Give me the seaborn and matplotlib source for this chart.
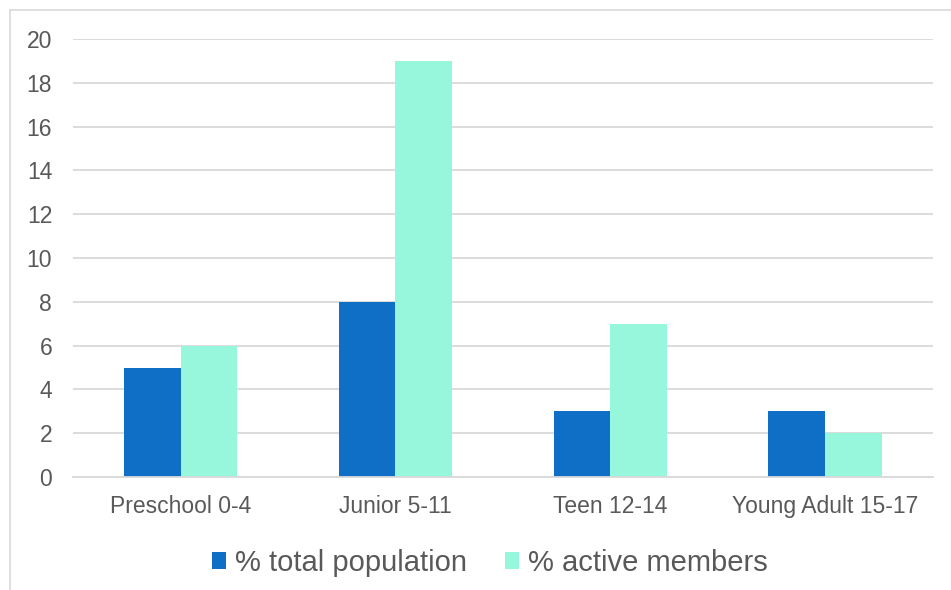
import matplotlib
matplotlib.use("Agg")
import matplotlib.pyplot as plt
from matplotlib.lines import Line2D
from matplotlib.patches import Patch
import pandas as pd
import seaborn as sns

categories = ["Preschool 0-4", "Junior 5-11", "Teen 12-14", "Young Adult 15-17"]
total_population = [5, 8, 3, 3]
active_members = [6, 19, 7, 2]
series_names = ["% total population", "% active members"]
colors = ["#0F6FC6", "#97F7DC"]
yticks = [0, 2, 4, 6, 8, 10, 12, 14, 16, 18, 20]

df = pd.DataFrame({
    "category": categories * 2,
    "value": total_population + active_members,
    "series": [series_names[0]] * len(categories) + [series_names[1]] * len(categories),
})

sns.set_theme(style="white")
plt.rcParams["font.family"] = ["Liberation Sans", "DejaVu Sans"]

fig = plt.figure(figsize=(9.51, 5.90), dpi=100)
ax = fig.add_axes([0.0768, 0.1915, 0.9042, 0.7424])

sns.barplot(data=df, x="category", y="value", hue="series", order=categories,
            hue_order=series_names, palette=colors, width=0.53, saturation=1,
            linewidth=0, edgecolor="none", ax=ax, legend=False)

ax.set_ylim(0, 20)
ax.set_xlim(-0.5, len(categories) - 0.5)
ax.set_yticks(yticks)
ax.yaxis.grid(True, color="#D9D9D9", linewidth=1.3)
ax.set_axisbelow(True)
for side in ["top", "right", "left"]:
    ax.spines[side].set_visible(False)
ax.spines["bottom"].set_color("#D9D9D9")
ax.spines["bottom"].set_linewidth(1.3)
ax.tick_params(axis="both", length=0, labelsize=16.5, labelcolor="#595959")
ax.tick_params(axis="y", pad=15)
ax.tick_params(axis="x", pad=13)
ax.set_xlabel("")
ax.set_ylabel("")

handles = [Patch(facecolor=c, edgecolor="none") for c in colors]
fig.legend(handles, series_names, loc="center", bbox_to_anchor=(0.515, 0.046),
           ncol=2, frameon=False, fontsize=21, labelcolor="#595959",
           handlelength=0.5, handleheight=0.5, handletextpad=0.3, columnspacing=1.3)

# chart frame edges
fig.add_artist(Line2D([9.5 / 951, 9.5 / 951], [0, 1 - 10 / 590],
                      transform=fig.transFigure, color="#D9D9D9", linewidth=1.2))
fig.add_artist(Line2D([9.5 / 951, 1], [1 - 10 / 590, 1 - 10 / 590],
                      transform=fig.transFigure, color="#D9D9D9", linewidth=1.2))

fig.savefig("out.png", dpi=100, facecolor="white")
